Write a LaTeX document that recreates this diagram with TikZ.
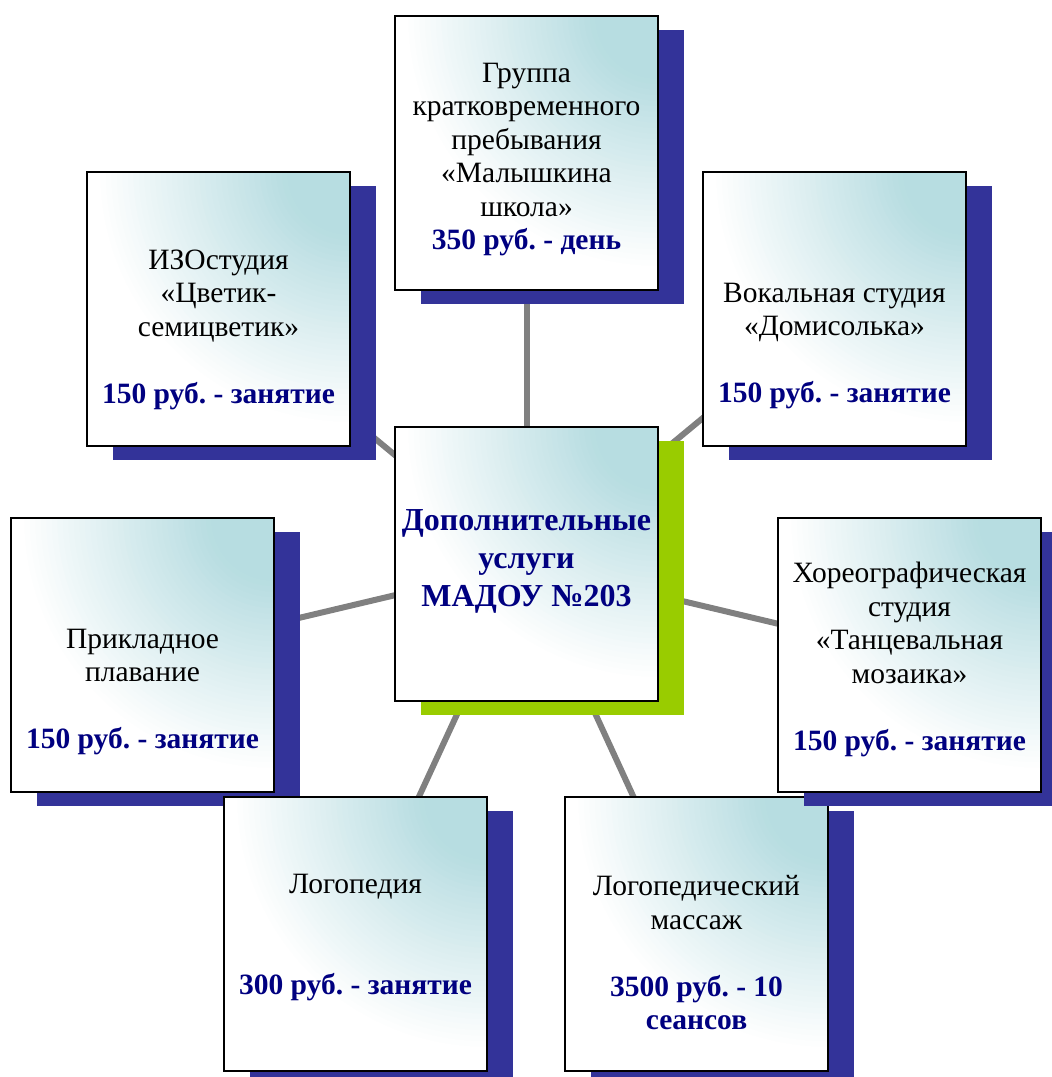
\documentclass[tikz,border=0pt]{standalone}
\usepackage{fontspec}
\setmainfont{Liberation Serif}
\usetikzlibrary{backgrounds}
\definecolor{shblue}{HTML}{333399}
\definecolor{shgreen}{HTML}{99CC00}
\definecolor{tealc}{HTML}{B7DDE1}
\definecolor{navyc}{HTML}{000080}
\definecolor{linegray}{HTML}{808080}
\newcommand{\pricetxt}[1]{\textcolor{navyc}{\bfseries #1}}
\frenchspacing
\begin{document}
\begin{tikzpicture}[x=1pt,y=-1pt,
  box/.style={draw=black, line width=1.6pt, minimum width=263pt, minimum height=274pt, inner sep=0pt,
    path picture={
      \fill[white] (path picture bounding box.south west) rectangle (path picture bounding box.north east);
      \foreach \i in {0,...,40}{
        \pgfmathsetmacro\rr{255-5.5*\i}
        \pgfmathsetmacro\pp{min(100,\i*2.9)}
        \fill[tealc!\pp!white] (path picture bounding box.north east) circle (\rr pt);
      }}},
  shadowbox/.style={fill=#1, draw=none, minimum width=263pt, minimum height=274pt, inner sep=0pt},
  txt/.style={align=center, inner sep=0pt, font=\fontsize{29.5}{33.5}\selectfont},
  titletxt/.style={align=center, inner sep=0pt, text=navyc, font=\bfseries\fontsize{32}{38}\selectfont},
  conn/.style={draw=linegray, line width=6pt}]
\useasboundingbox (0,0) rectangle (1052,1077);
% boxes with shadows
\node[shadowbox=shblue] (topS) at (552.5,167) {};
\node[box] (top) at (526.5,153) {};
\node[shadowbox=shblue] (izoS) at (244.5,323) {};
\node[box] (izo) at (218.5,309) {};
\node[shadowbox=shblue] (vokS) at (860.5,323) {};
\node[box] (vok) at (834.5,309) {};
\node[shadowbox=shgreen] (cenS) at (552.5,578) {};
\node[box] (cen) at (526.5,564) {};
\node[shadowbox=shblue] (massS) at (722.5,948) {};
\node[box] (mass) at (696.5,934) {};
\node[shadowbox=shblue] (horeoS) at (935.5,669) {};
\node[box] (horeo) at (909.5,655) {};
\node[shadowbox=shblue] (plavS) at (168.5,669) {};
\node[box] (plav) at (142.5,655) {};
\node[shadowbox=shblue] (logoS) at (381.5,948) {};
\node[box] (logo) at (355.5,934) {};
% connectors
\begin{scope}[on background layer]
\draw[conn] (cen.center) -- (top.center);
\draw[conn] (cen.center) -- (izo.center);
\draw[conn] (cen.center) -- (vok.center);
\draw[conn] (cen.center) -- (plav.center);
\draw[conn] (cen.center) -- (horeo.center);
\draw[conn] (cen.center) -- (logo.center);
\draw[conn] (cen.center) -- (mass.center);
\end{scope}
% texts
\node[txt] (topT) at (526.5,159.5) {Группа\\кратковременного\\пребывания\\«Малышкина\\школа»\\\pricetxt{350 руб. - день}};
\node[txt] (izoT) at (218.5,329.5) {ИЗОстудия\\«Цветик-\\семицветик»\\[33.5pt]\pricetxt{150 руб. - занятие}};
\node[txt] (vokT) at (834.5,346) {Вокальная студия\\«Домисолька»\\[33.5pt]\pricetxt{150 руб. - занятие}};
\node[titletxt] (cenT) at (526.5,561) {Дополнительные\\услуги\\МАДОУ №203};
\node[txt] (plavT) at (142.5,692) {Прикладное\\плавание\\[33.5pt]\pricetxt{150 руб. - занятие}};
\node[txt] (horeoT) at (909.5,659.5) {Хореографическая\\студия\\«Танцевальная\\мозаика»\\[33.5pt]\pricetxt{150 руб. - занятие}};
\node[txt] (logoT) at (355.5,937.5) {Логопедия\\[67pt]\pricetxt{300 руб. - занятие}};
\node[txt] (massT) at (696.5,953) {Логопедический\\массаж\\[33.5pt]\pricetxt{3500 руб. - 10}\\\pricetxt{сеансов}};
\end{tikzpicture}
\end{document}
